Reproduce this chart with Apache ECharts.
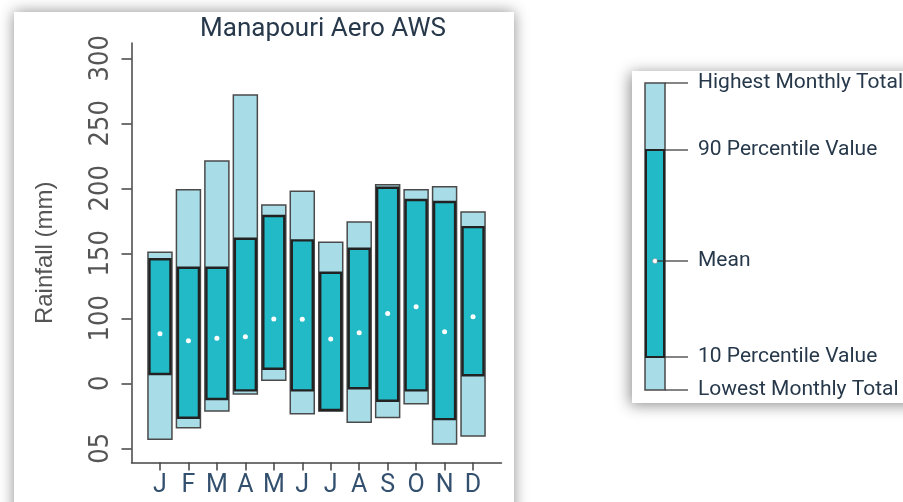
<!DOCTYPE html>
<html>
<head>
<meta charset="utf-8">
<script src="https://cdn.jsdelivr.net/npm/echarts@6/dist/echarts.min.js"></script>
<style>
  html,body{margin:0;padding:0;background:#fff;}
  #chart{width:903px;height:502px;}
</style>
</head>
<body>
<div id="chart"></div>
<script>
'use strict';

/* ---------- data (mm) ---------- */
const MONTHS  = ['J','F','M','A','M','J','J','A','S','O','N','D'];
const LOWEST  = [6.9, 15.8, 28.7, 41.8, 52.3, 26.6, 28.7, 20.0, 23.8, 34.3, 3.3, 9.5];
const P10     = [57.2, 23.5, 37.9, 44.6, 61.2, 44.6, 29.5, 46.2, 36.6, 44.6, 22.5, 56.2];
const P90     = [145.5, 138.9, 138.9, 161.2, 178.7, 160.0, 135.1, 153.5, 200.5, 191.0, 189.5, 170.2];
const HIGHEST = [150.8, 198.9, 221.0, 271.8, 187.2, 197.7, 158.5, 174.1, 202.8, 198.9, 201.2, 181.8];
const MEAN    = [88.2, 82.8, 84.6, 85.8, 99.5, 99.2, 84.1, 88.9, 103.8, 108.9, 89.7, 101.2];
const Y_TICKS  = [0, 50, 100, 150, 200, 250, 300];
const Y_LABELS = ['05', '0', '100', '150', '200', '250', '300'];   // as printed on the original
const LEGEND_ITEMS = ['Highest Monthly Total','90 Percentile Value','Mean','10 Percentile Value','Lowest Monthly Total'];

/* ---------- look ---------- */
const C = {
  light:'#A8DDE8', dark:'#22BAC6', edge:'#4A4A4A', edgeDark:'#222',
  axis:'#444', tick:'#555', month:'#34506F', title:'#26384A',
  font:'Roboto, "Open Sans", sans-serif',
  narrow:'"Liberation Sans Narrow", "DejaVu Sans Condensed", sans-serif',
};

const boxes = MONTHS.map((m,i)=>[i, LOWEST[i], P10[i], P90[i], HIGHEST[i], MEAN[i]]);

function renderBox(params, api){
  const i = api.value(0);
  const top = api.coord([i, api.value(4)]);
  const bot = api.coord([i, api.value(1)]);
  const q90 = api.coord([i, api.value(3)]);
  const q10 = api.coord([i, api.value(2)]);
  const mu  = api.coord([i, api.value(5)]);
  const ow = 24, iw = 21;
  return {type:'group', children:[
    {type:'rect', shape:{x:top[0]-ow/2, y:top[1], width:ow, height:bot[1]-top[1]},
     style:{fill:C.light, stroke:C.edge, lineWidth:1.5}},
    {type:'rect', shape:{x:q90[0]-iw/2, y:q90[1], width:iw, height:q10[1]-q90[1]},
     style:{fill:C.dark, stroke:C.edgeDark, lineWidth:2.4}},
    {type:'circle', shape:{cx:mu[0], cy:mu[1], r:2.5}, style:{fill:'#fff'}},
  ]};
}

/* ---------- legend panel (drawn, not data) ---------- */
const LG = {x:645, top:83, q90:150, mean:261, q10:357, bot:390, w:20};
const legendYs = [LG.top, LG.q90, LG.mean, LG.q10, LG.bot];
const legendGraphics = [
  {type:'rect', z:-10, shape:{x:632, y:71, width:300, height:332},
   style:{fill:'#fff', shadowBlur:14, shadowColor:'rgba(0,0,0,0.45)', shadowOffsetX:-2, shadowOffsetY:2}},
  {type:'rect', shape:{x:LG.x, y:LG.top, width:LG.w, height:LG.bot-LG.top},
   style:{fill:C.light, stroke:C.edge, lineWidth:1.5}},
  {type:'rect', shape:{x:LG.x+1, y:LG.q90, width:LG.w-2, height:LG.q10-LG.q90},
   style:{fill:C.dark, stroke:C.edgeDark, lineWidth:2}},
  {type:'circle', shape:{cx:LG.x+LG.w/2, cy:LG.mean, r:2.5}, style:{fill:'#fff', stroke:'#888', lineWidth:0.5}},
  ...legendYs.map((y,k)=>({type:'line',
    shape:{x1:k===2?LG.x+LG.w/2+2:LG.x+LG.w, y1:y, x2:688, y2:y},
    style:{stroke:'#333', lineWidth:1.2}})),
  ...legendYs.map((y,k)=>({type:'text', x:698, y:y,
    style:{text:LEGEND_ITEMS[k], font:'21px '+C.font, fill:C.title, verticalAlign:'middle'}})),
];

const chart = echarts.init(document.getElementById('chart'));
chart.setOption({
  animation:false,
  title:{text:'Manapouri Aero AWS', left:318, top:11, textAlign:'center',
    textStyle:{fontFamily:C.font, fontSize:26, fontWeight:'normal', color:C.title}},
  grid:{left:131.5, top:43, width:370, bottom:39.5},
  graphic:[
    {type:'rect', z:-10, shape:{x:14, y:12, width:500, height:520},
     style:{fill:'#fff', shadowBlur:14, shadowColor:'rgba(0,0,0,0.45)'}},
    ...legendGraphics,
  ],
  xAxis:{type:'value', min:-1, max:12,
    splitLine:{show:false},
    axisLine:{show:true, onZero:false, lineStyle:{color:C.axis, width:1.5}},
    axisTick:{show:true, customValues:MONTHS.map((m,i)=>i), length:8, lineStyle:{color:C.axis, width:1.5}},
    axisLabel:{customValues:MONTHS.map((m,i)=>i), formatter:v=>MONTHS[v], margin:11,
      fontFamily:C.font, fontSize:25, color:C.month}},
  yAxis:{type:'value', min:-10.9, max:311.8,
    name:'Rainfall (mm)', nameLocation:'middle', nameGap:74, nameRotate:90,
    nameTextStyle:{fontFamily:'"Liberation Sans", sans-serif', fontSize:24, color:'#555'},
    splitLine:{show:false},
    axisLine:{show:true, onZero:false, lineStyle:{color:C.axis, width:1.5}},
    axisTick:{show:true, customValues:Y_TICKS, length:10, lineStyle:{color:C.axis, width:1.5}},
    axisLabel:{customValues:Y_TICKS, rotate:90, margin:17,
      formatter:v=>Y_LABELS[Y_TICKS.indexOf(v)],
      fontFamily:C.narrow, fontSize:27, color:'#555'}},
  series:[{type:'custom', renderItem:renderBox, data:boxes,
    encode:{x:0, y:[1,2,3,4,5]}, clip:false}],
});
</script>
</body>
</html>
